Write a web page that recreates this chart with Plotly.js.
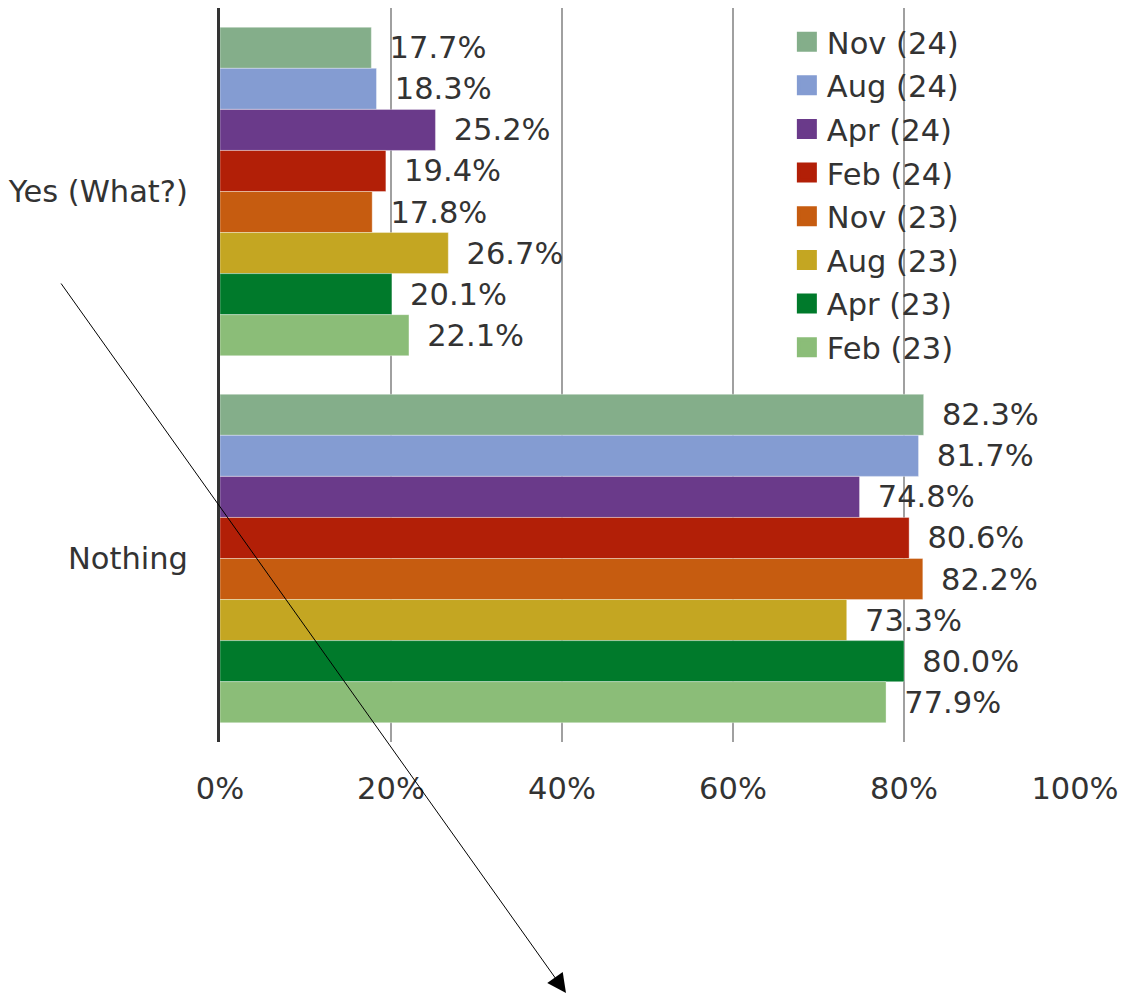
<!DOCTYPE html>
<html>
<head>
<meta charset="utf-8">
<script src="https://cdn.plot.ly/plotly-3.0.1.min.js"></script>
<style>html,body{margin:0;padding:0;background:#fff;}#chart{width:1126px;height:994px;}</style>
</head>
<body>
<div id="chart"></div>
<script>
const categories = ["Yes (What?)", "Nothing"];
const seriesNames = ["Nov (24)", "Aug (24)", "Apr (24)", "Feb (24)", "Nov (23)", "Aug (23)", "Apr (23)", "Feb (23)"];
const nov24 = [0.177, 0.823];
const aug24 = [0.183, 0.817];
const apr24 = [0.252, 0.748];
const feb24 = [0.194, 0.806];
const nov23 = [0.178, 0.822];
const aug23 = [0.267, 0.733];
const apr23 = [0.201, 0.800];
const feb23 = [0.221, 0.779];
const seriesValues = [nov24, aug24, apr24, feb24, nov23, aug23, apr23, feb23];
const seriesColors = ["#84AE8A", "#849CD2", "#6A3A8A", "#B21F07", "#C65C10", "#C4A622", "#007A2B", "#8BBD78"];
const xTickVals = [0, 0.2, 0.4, 0.6, 0.8, 1.0];
const xTickText = ["0%", "20%", "40%", "60%", "80%", "100%"];

const FONT = "DejaVu Sans, Verdana, sans-serif";
const TXT = "#333333";
const FS = 30.5;

const traces = [];
seriesNames.forEach((name, i) => {
  traces.push({
    type: "bar",
    orientation: "h",
    name: name,
    y: categories,
    x: seriesValues[i],
    marker: {color: seriesColors[i], line: {color: "rgba(255,255,255,0.35)", width: 1}},
    text: seriesValues[i].map(v => "\u2002" + (v * 100).toFixed(1) + "%"),
    texttemplate: "%{text}",
    textposition: "outside",
    cliponaxis: false,
    textfont: {family: FONT, size: FS, color: TXT},
    hoverinfo: "none",
    showlegend: false
  });
});
// legend proxies (larger square swatches)
seriesNames.forEach((name, i) => {
  traces.push({
    type: "scatter",
    mode: "markers",
    name: name,
    x: [null],
    y: [null],
    legendgroup: "g" + i,
    marker: {symbol: "square", size: 16, color: seriesColors[i], line: {color: seriesColors[i], width: 4}},
    showlegend: true,
    hoverinfo: "none"
  });
});

const layout = {
  width: 1126,
  height: 994,
  margin: {l: 220, r: 51, t: 8, b: 252},
  paper_bgcolor: "#ffffff",
  plot_bgcolor: "#ffffff",
  barmode: "group",
  bargap: 0.105,
  bargroupgap: 0,
  font: {family: FONT, size: FS, color: TXT},
  showlegend: true,
  legend: {
    x: 0.663, xanchor: "left",
    y: 0.99, yanchor: "top",
    bgcolor: "rgba(0,0,0,0)",
    font: {family: FONT, size: FS, color: TXT},
    traceorder: "grouped",
    tracegroupgap: 1,
    itemclick: false
  },
  xaxis: {
    range: [0, 1],
    tickvals: xTickVals,
    ticktext: xTickText,
    showgrid: true,
    gridcolor: "#A0A0A0",
    gridwidth: 2,
    zeroline: false,
    showline: false,
    ticks: "",
    ticklabelstandoff: 25,
    tickfont: {family: FONT, size: FS, color: TXT},
    fixedrange: true
  },
  yaxis: {
    type: "category",
    categoryorder: "array",
    categoryarray: categories,
    autorange: "reversed",
    showgrid: false,
    zeroline: false,
    showline: true,
    linecolor: "#333333",
    linewidth: 3,
    ticks: "",
    ticklabelstandoff: 23,
    tickfont: {family: FONT, size: FS, color: TXT},
    fixedrange: true
  },
  annotations: [{
    xref: "paper", yref: "paper",
    x: (566 - 220) / 855, y: (742 - 993) / 734,
    ax: 60 - 566, ay: 282 - 993,
    text: "",
    showarrow: true,
    arrowhead: 2,
    arrowsize: 3.8,
    arrowwidth: 1,
    arrowcolor: "#000000",
    standoff: 0
  }]
};

Plotly.newPlot("chart", traces, layout, {displayModeBar: false, staticPlot: true});
</script>
</body>
</html>
